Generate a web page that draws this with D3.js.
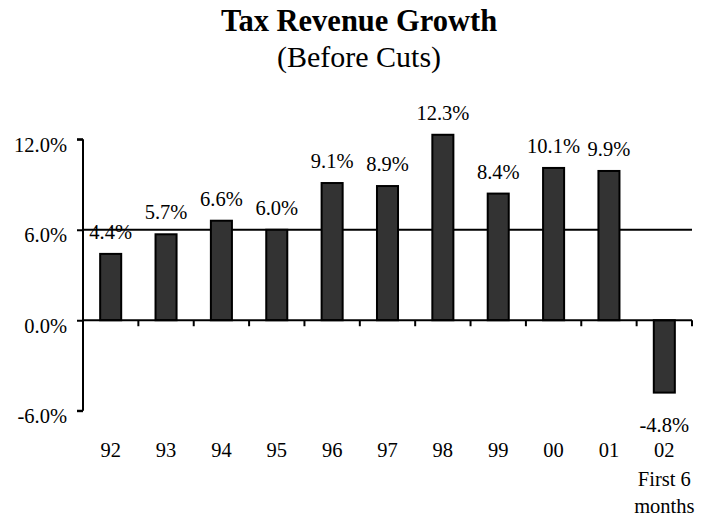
<!DOCTYPE html>
<html>
<head>
<meta charset="utf-8">
<script src="https://cdn.jsdelivr.net/npm/d3@7"></script>
<style>
  html, body { margin: 0; padding: 0; background: #fff; }
  svg { display: block; }
  text { font-family: "Liberation Serif", "Times New Roman", serif; fill: #000; }
</style>
</head>
<body>
<svg id="chart" width="707" height="516"></svg>
<script>
// Annual tax revenue growth, percent
const years = ["92", "93", "94", "95", "96", "97", "98", "99", "00", "01", "02"];
const growth = [4.4, 5.7, 6.6, 6.0, 9.1, 8.9, 12.3, 8.4, 10.1, 9.9, -4.8];
const yTicks = [-6, 0, 6, 12];
const gridValues = [6];
const lastYearNote = ["First 6", "months"];
const titleText = "Tax Revenue Growth";
const subtitleText = "(Before Cuts)";

const svg = d3.select("#chart");
const margin = { left: 83, right: 15, top: 139.3, bottom: 105.3 };
const W = 707, H = 516;

const x = d3.scaleBand()
  .domain(years)
  .range([margin.left, W - margin.right])
  .paddingInner(0.62)
  .paddingOuter(0.31);

const y = d3.scaleLinear()
  .domain([-6, 12])
  .range([H - margin.bottom, margin.top]);

const fmt = d => d.toFixed(1) + "%";
const serif = "'Liberation Serif', 'Times New Roman', serif";

// Title
svg.append("text")
  .attr("x", 359).attr("y", 31)
  .attr("text-anchor", "middle")
  .style("font-size", "30.5px").style("font-weight", "bold")
  .text(titleText);
svg.append("text")
  .attr("x", 359).attr("y", 67)
  .attr("text-anchor", "middle")
  .style("font-size", "30px")
  .text(subtitleText);

// Horizontal reference line
svg.selectAll(".grid").data(gridValues).enter().append("line")
  .attr("class", "grid")
  .attr("x1", margin.left).attr("x2", W - margin.right)
  .attr("y1", d => y(d)).attr("y2", d => y(d))
  .attr("stroke", "#000").attr("stroke-width", 2);

// Bars
const data = years.map((k, i) => ({ year: k, value: growth[i] }));
svg.selectAll(".bar").data(data).enter().append("rect")
  .attr("class", "bar")
  .attr("x", d => x(d.year))
  .attr("width", x.bandwidth())
  .attr("y", d => Math.min(y(d.value), y(0)))
  .attr("height", d => Math.abs(y(d.value) - y(0)))
  .attr("fill", "#333333")
  .attr("stroke", "#000")
  .attr("stroke-width", 2);

// Value labels
svg.selectAll(".vlabel").data(data).enter().append("text")
  .attr("class", "vlabel")
  .attr("x", d => x(d.year) + x.bandwidth() / 2)
  .attr("y", d => d.value >= 0 ? y(d.value) - 15 : y(d.value) + 39)
  .attr("text-anchor", "middle")
  .style("font-size", "20.5px")
  .text(d => fmt(d.value));

// Y axis
const yAxis = d3.axisLeft(y)
  .tickValues(yTicks)
  .tickSize(6)
  .tickPadding(10)
  .tickFormat(fmt);
const gy = svg.append("g")
  .attr("transform", `translate(${margin.left},0)`)
  .call(yAxis);
gy.select(".domain").attr("stroke", "#000").attr("stroke-width", 2)
  .attr("d", `M0,${y(12)}V${y(-6)}M-6,${y(12)}H0M-6,${y(-6)}H0`);
gy.selectAll(".tick line").attr("stroke", "#000").attr("stroke-width", 2);
gy.selectAll(".tick text")
  .attr("dy", null).attr("y", 12)
  .style("font-size", "20.5px")
  .style("font-family", serif);

// X axis along zero, ticks at category boundaries
const step = x.step();
const xa = svg.append("g");
xa.append("line")
  .attr("x1", margin.left).attr("x2", W - margin.right)
  .attr("y1", y(0)).attr("y2", y(0))
  .attr("stroke", "#000").attr("stroke-width", 2);
xa.selectAll(".xtick").data(years).enter().append("line")
  .attr("class", "xtick")
  .attr("x1", d => x(d) + x.bandwidth() / 2 + step / 2)
  .attr("x2", d => x(d) + x.bandwidth() / 2 + step / 2)
  .attr("y1", y(0)).attr("y2", y(0) + 6)
  .attr("stroke", "#000").attr("stroke-width", 2);

// Category labels at the bottom
svg.selectAll(".xlabel").data(years).enter().append("text")
  .attr("class", "xlabel")
  .attr("x", d => x(d) + x.bandwidth() / 2)
  .attr("y", 457)
  .attr("text-anchor", "middle")
  .style("font-size", "20.5px")
  .text(d => d);

const last = years[years.length - 1];
svg.selectAll(".note").data(lastYearNote).enter().append("text")
  .attr("class", "note")
  .attr("x", x(last) + x.bandwidth() / 2)
  .attr("y", (d, i) => 486 + i * 27)
  .attr("text-anchor", "middle")
  .style("font-size", "20.5px")
  .text(d => d);
</script>
</body>
</html>
